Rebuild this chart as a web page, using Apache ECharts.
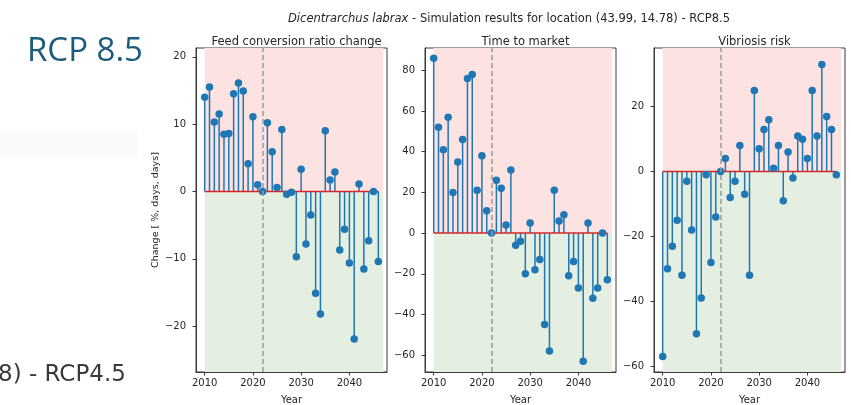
<!DOCTYPE html>
<html>
<head>
<meta charset="utf-8">
<script src="https://cdn.jsdelivr.net/npm/echarts@6/dist/echarts.min.js"></script>
<style>
  html, body { margin: 0; padding: 0; background: #ffffff; }
  #chart { width: 851px; height: 405px; }
</style>
</head>
<body>
<div id="chart"></div>
<script>
// Simulation years
const years = [2010, 2011, 2012, 2013, 2014, 2015, 2016, 2017, 2018, 2019,
  2020, 2021, 2022, 2023, 2024, 2025, 2026, 2027, 2028, 2029,
  2030, 2031, 2032, 2033, 2034, 2035, 2036, 2037, 2038, 2039,
  2040, 2041, 2042, 2043, 2044, 2045, 2046];

// Feed conversion ratio change [%]
const fcrChange = [14.0, 15.5, 10.3, 11.5, 8.5, 8.6, 14.5, 16.1, 14.9, 4.1,
  11.1, 1.0, 0.0, 10.2, 5.9, 0.6, 9.2, -0.4, -0.1, -9.7,
  3.3, -7.8, -3.5, -15.1, -18.2, 9.0, 1.7, 2.9, -8.7, -5.6,
  -10.6, -21.9, 1.1, -11.5, -7.3, 0.0, -10.4];

// Time to market change [days]
const timeToMarket = [86, 52, 41, 57, 20, 35, 46, 76, 78, 21,
  38, 11, 0, 26, 22, 4, 31, -6, -4, -20,
  5, -18, -13, -45, -58, 21, 6, 9, -21, -14,
  -27, -63, 5, -32, -27, 0, -23];

// Vibriosis risk change [days]
const vibriosisRisk = [-57, -30, -23, -15, -32, -3, -18, -50, -39, -1,
  -28, -14, 0, 4, -8, -3, 8, -7, -32, 25,
  7, 13, 16, 1, 8, -9, 6, -2, 11, 10,
  4, 25, 11, 33, 17, 13, -1];

const panelTitles = ['Feed conversion ratio change', 'Time to market', 'Vibriosis risk'];
const yTicks = [
  [-20, -10, 0, 10, 20],
  [-60, -40, -20, 0, 20, 40, 60, 80],
  [-60, -40, -20, 0, 20]
];
const yLimits = [[-26.8, 21.3], [-68.3, 91.0], [-61.8, 38.1]];
const xTicks = [2010, 2020, 2030, 2040];
const xLimits = [2008.2, 2047.8];
const referenceYear = 2022;
const bandEnd = 2047;

const seriesValues = [fcrChange, timeToMarket, vibriosisRisk];

const FONT = 'DejaVu Sans';
const TEXT = '#262626';
const AXIS = '#3a3a3a';
const BLUE = '#1f77b4';

const gridLefts = [196, 425, 654];
const gridTop = 48, gridW = 191, gridH = 324;

const fmt = v => String(v).replace('-', '\u2212');

const grids = [], xAxes = [], yAxes = [], series = [], titles = [];

titles.push({
  text: '{i|Dicentrarchus labrax} - Simulation results for location (43.99, 14.78) - RCP8.5',
  left: 504, top: 8, textAlign: 'center',
  textStyle: {
    fontFamily: FONT, fontSize: 11.5, fontWeight: 'normal', color: TEXT,
    rich: { i: { fontFamily: FONT, fontSize: 11.5, fontStyle: 'italic', color: TEXT } }
  }
});

seriesValues.forEach((vals, k) => {
  grids.push({
    left: gridLefts[k], top: gridTop, width: gridW, height: gridH,
    outerBoundsMode: 'none', containLabel: false,
    show: true, backgroundColor: 'transparent', borderColor: AXIS, borderWidth: 1
  });
  titles.push({
    text: panelTitles[k], left: gridLefts[k] + gridW / 2, top: 31, textAlign: 'center',
    textStyle: { fontFamily: FONT, fontSize: 11.5, fontWeight: 'normal', color: TEXT }
  });
  xAxes.push({
    type: 'value', gridIndex: k, min: xLimits[0], max: xLimits[1],
    name: 'Year', nameLocation: 'middle', nameGap: 23,
    nameTextStyle: { fontFamily: FONT, fontSize: 10, color: TEXT },
    axisLine: { show: true, onZero: false, lineStyle: { color: AXIS, width: 1 } },
    axisTick: { show: true, length: 3.5, lineStyle: { color: AXIS }, customValues: xTicks },
    axisLabel: { fontFamily: FONT, fontSize: 10, color: TEXT, margin: 6, customValues: xTicks, formatter: v => String(v) },
    splitLine: { show: false }
  });
  yAxes.push({
    type: 'value', gridIndex: k, min: yLimits[k][0], max: yLimits[k][1],
    name: k === 0 ? 'Change [ %, days, days]' : '',
    nameLocation: 'middle', nameGap: 35, nameRotate: 90,
    nameTextStyle: { fontFamily: FONT, fontSize: 9.5, color: TEXT },
    axisLine: { show: true, onZero: false, lineStyle: { color: AXIS, width: 1 } },
    axisTick: { show: true, length: 3.5, lineStyle: { color: AXIS }, customValues: yTicks[k] },
    axisLabel: { fontFamily: FONT, fontSize: 10, color: TEXT, margin: 10, customValues: yTicks[k], formatter: v => fmt(v) },
    splitLine: { show: false }
  });

  // shaded bands: red above zero, green below
  series.push({
    type: 'custom', xAxisIndex: k, yAxisIndex: k, z: 0, silent: true,
    data: [[years[0], bandEnd, 0, yLimits[k][1], 0], [years[0], bandEnd, yLimits[k][0], 0, 1]],
    encode: { x: [0, 1], y: [2, 3] },
    renderItem: (params, api) => {
      const a = api.coord([api.value(0), api.value(3)]);
      const b = api.coord([api.value(1), api.value(2)]);
      return {
        type: 'rect',
        shape: { x: a[0], y: a[1], width: b[0] - a[0], height: b[1] - a[1] },
        style: { fill: api.value(4) === 0 ? '#fde2e2' : '#e4efe1' }
      };
    },
    markLine: {
      silent: true, symbol: 'none', label: { show: false },
      lineStyle: { color: '#9a9a9a', type: [5, 3], width: 1.5 },
      data: [{ xAxis: referenceYear }]
    }
  });

  const pts = years.map((y, i) => [y, vals[i]]);

  // stems
  series.push({
    type: 'custom', xAxisIndex: k, yAxisIndex: k, z: 2, silent: true,
    data: pts,
    encode: { x: 0, y: 1 },
    renderItem: (params, api) => {
      const p0 = api.coord([api.value(0), 0]);
      const p1 = api.coord([api.value(0), api.value(1)]);
      return {
        type: 'line',
        shape: { x1: p0[0], y1: p0[1], x2: p1[0], y2: p1[1] },
        style: { stroke: BLUE, lineWidth: 1.5 }
      };
    }
  });

  // baseline
  series.push({
    type: 'line', xAxisIndex: k, yAxisIndex: k, z: 3, silent: true,
    data: [[years[0], 0], [years[years.length - 1], 0]],
    showSymbol: false, symbol: 'none',
    lineStyle: { color: '#d62728', width: 1.5 }
  });

  // markers
  series.push({
    type: 'scatter', xAxisIndex: k, yAxisIndex: k, z: 4, silent: true,
    data: pts, symbol: 'circle', symbolSize: 7.5,
    itemStyle: { color: BLUE, opacity: 1 }
  });
});

const chart = echarts.init(document.getElementById('chart'), null, { renderer: 'canvas' });
chart.setOption({
  animation: false,
  backgroundColor: '#ffffff',
  title: titles,
  grid: grids,
  xAxis: xAxes,
  yAxis: yAxes,
  series: series,
  graphic: [
    { type: 'rect', left: 0, top: 132, shape: { width: 138, height: 24 }, style: { fill: '#fafafa' }, z: -1 },
    { type: 'text', left: 27, top: 35, style: { text: 'RCP 8.5', fontFamily: 'Open Sans', fontSize: 33, fill: '#1b5b7c' } },
    { type: 'text', left: -2, top: 364, style: { text: '8) - RCP4.5', fontFamily: 'DejaVu Sans', fontSize: 23, fill: '#3a3a3a' } }
  ]
});
</script>
</body>
</html>
